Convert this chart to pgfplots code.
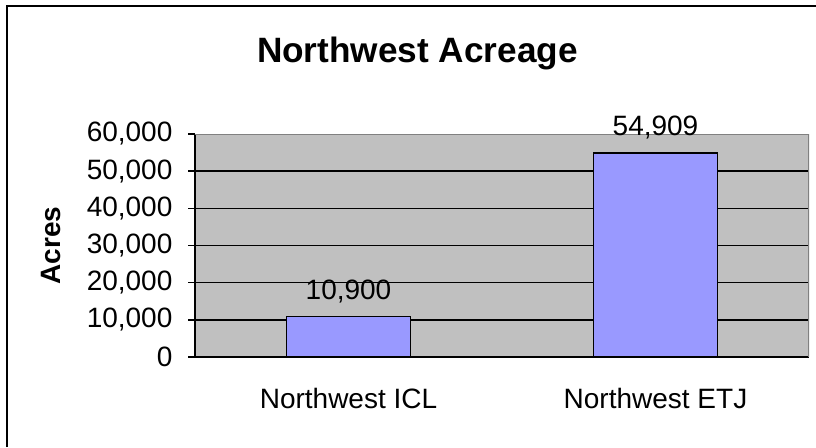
\documentclass[border=0pt]{standalone}
\usepackage{fontspec}
\setmainfont{Liberation Sans}
\usepackage{pgfplots}
\pgfplotsset{compat=1.18}
\definecolor{bggray}{HTML}{C0C0C0}
\definecolor{barblue}{HTML}{9999FF}
\definecolor{edgegray}{HTML}{808080}
\begin{document}
\begin{tikzpicture}
\useasboundingbox (0pt,0pt) rectangle (612pt,335.25pt);
\draw[line width=1.5pt] (5.25pt,0pt) -- (5.25pt,330.75pt) -- (612pt,330.75pt);
\node[anchor=base,font=\fontsize{26.4}{30}\selectfont\bfseries] at (313.1pt,288pt) {Northwest Acreage};
\begin{axis}[
  at={(146.25pt,67.5pt)}, anchor=south west,
  width=460.5pt, height=167.25pt, scale only axis,
  xmin=-0.5, xmax=1.5, ymin=0, ymax=60000,
  axis background/.style={fill=bggray},
  axis x line*=bottom, axis y line*=left,
  axis line style={line width=1.5pt,-},
  every axis plot/.append style={line width=1.2pt},
  tick align=outside,
  major tick length=5.25pt,
  tick style={line width=1.2pt,black},
  xtick={0,1},
  xticklabels={Northwest ICL, Northwest ETJ},
  xtick style={draw=none},
  extra x ticks={-0.5,0.5,1.5},
  extra x tick labels={},
  extra x tick style={major tick length=7.5pt, tick style={draw=black,line width=1.2pt}},
  ytick={0,10000,...,60000},
  extra y ticks={10000,20000,30000,40000,50000},
  extra y tick labels={},
  extra y tick style={ymajorgrids=true, major tick length=0pt},
  grid style={black, line width=1.2pt},
  scaled y ticks=false,
  /pgf/number format/.cd, fixed, 1000 sep={,}, assume math mode=true,
  /pgfplots/.cd,
  ticklabel style={font=\fontsize{21}{24}\selectfont},
  yticklabel style={anchor=east, inner sep=0pt, xshift=-11.5pt},
  xticklabel style={anchor=base, inner sep=0pt, yshift=-33pt},
  ylabel={Acres},
  ylabel style={at={(axis description cs:-0.2345,0.5)}, anchor=center, font=\fontsize{21}{24}\selectfont\bfseries},
  ybar, bar width=93pt,
  nodes near coords,
  every node near coord/.append style={font=\fontsize{21}{24}\selectfont, anchor=base, yshift=12.75pt, inner sep=0pt},
]
\addplot[fill=barblue, draw=black] coordinates {(0,10900) (1,54909)};
\draw[edgegray, line width=1pt] (rel axis cs:0,1) -- (rel axis cs:1,1) -- (rel axis cs:1,0);
\end{axis}
\end{tikzpicture}
\end{document}
